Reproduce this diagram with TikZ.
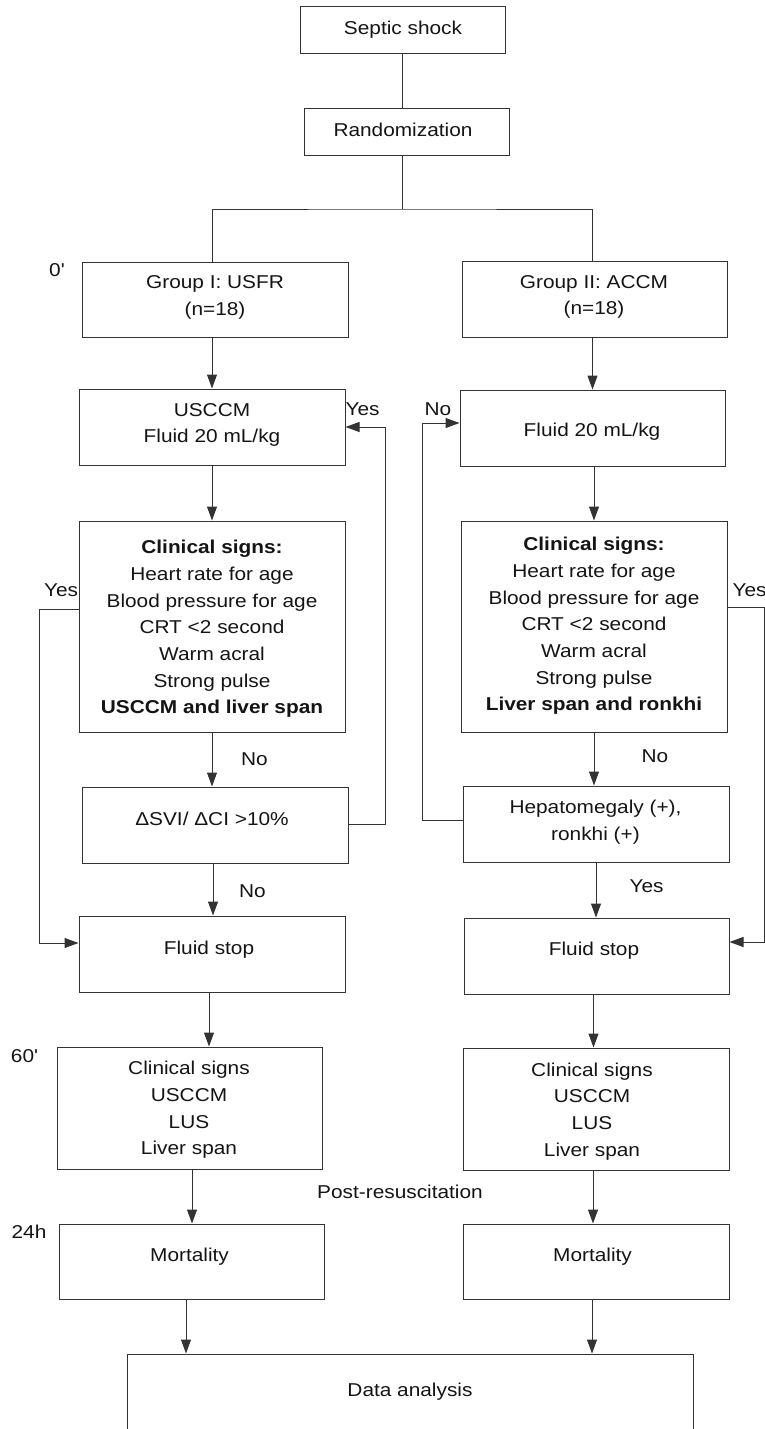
\documentclass[tikz,border=0pt]{standalone}
\usepackage{fontspec}
\setmainfont{Liberation Sans}[FakeStretch=1.12, Ligatures=TeXOff]
\usetikzlibrary{arrows.meta}
\definecolor{lc}{gray}{0.2}
\definecolor{tc}{gray}{0.08}
\begin{document}
\begin{tikzpicture}[x=1pt,y=-1pt,
  box/.style={draw=lc, line width=1pt, rectangle, inner sep=0pt},
  txt/.style={inner sep=0pt, align=center, text=tc, font=\fontsize{18.6}{26.67}\selectfont},
  lab/.style={txt, text height=13.3pt, text depth=0pt},
  ln/.style={draw=lc, line width=1pt},
  arr/.style={ln, -{Triangle[length=14pt,width=10pt]}}]
\useasboundingbox (0,0) rectangle (765,1429);
\clip (0,0) rectangle (765,1429);

% boxes
\node[box, minimum width=205pt, minimum height=47pt] (sep) at (402.5,30.5) {};
\node[box, minimum width=205pt, minimum height=47pt] (rnd) at (406.5,131.5) {};
\node[box, minimum width=266pt, minimum height=75pt] (g1) at (215,299.5) {};
\node[box, minimum width=265pt, minimum height=76pt] (g2) at (594.5,299) {};
\node[box, minimum width=266pt, minimum height=76pt] (us) at (212,427) {};
\node[box, minimum width=265pt, minimum height=76pt] (f2) at (592.5,428) {};
\node[box, minimum width=266pt, minimum height=211pt] (c1) at (212,626.5) {};
\node[box, minimum width=266pt, minimum height=211pt] (c2) at (594,626.5) {};
\node[box, minimum width=266pt, minimum height=76pt] (d1) at (215,825) {};
\node[box, minimum width=266pt, minimum height=76pt] (h2) at (596,824) {};
\node[box, minimum width=266pt, minimum height=76pt] (s1) at (212,954) {};
\node[box, minimum width=265pt, minimum height=76pt] (s2) at (596.5,956) {};
\node[box, minimum width=265pt, minimum height=122pt] (k1) at (190,1108) {};
\node[box, minimum width=266pt, minimum height=122pt] (k2) at (596,1109) {};
\node[box, minimum width=265pt, minimum height=75pt] (m1) at (192,1261.5) {};
\node[box, minimum width=266pt, minimum height=75pt] (m2) at (596,1261.5) {};
\node[box, minimum width=566pt, minimum height=120pt] (da) at (410,1414) {};

% texts in boxes
\node[lab] (tsep) at (403,28) {Septic shock};
\node[lab] (trnd) at (403,129.5) {Randomization};
\node[txt] (tg1) at (215,297.5) {Group I: USFR\\(n=18)};
\node[txt] (tg2) at (594,297) {Group II: ACCM\\(n=18)};
\node[txt] (tus) at (212,425) {USCCM\\Fluid 20 mL/kg};
\node[lab] (tf2) at (592,430) {Fluid 20 mL/kg};
\node[txt] (tc1) at (212,629) {\textbf{Clinical signs:}\\Heart rate for age\\Blood pressure for age\\CRT <2 second\\Warm acral\\Strong pulse\\\textbf{USCCM and liver span}};
\node[txt] (tc2) at (594,626) {\textbf{Clinical signs:}\\Heart rate for age\\Blood pressure for age\\CRT <2 second\\Warm acral\\Strong pulse\\\textbf{Liver span and ronkhi}};
\node[lab] (td1) at (212,819) {ΔSVI/ ΔCI >10\%};
\node[txt] (th2) at (595.5,822.5) {Hepatomegaly (+),\\ronkhi (+)};
\node[lab] (ts1) at (209,948) {Fluid stop};
\node[lab] (ts2) at (594,949) {Fluid stop};
\node[txt] (tk1) at (189,1110) {Clinical signs\\USCCM\\LUS\\Liver span};
\node[txt] (tk2) at (592,1111.5) {Clinical signs\\USCCM\\LUS\\Liver span};
\node[lab] (tm1) at (189.5,1255) {Mortality};
\node[lab] (tm2) at (592.5,1255) {Mortality};
\node[lab] (tda) at (410,1390) {Data analysis};

% side labels
\node[lab] (l0) at (57,270) {0'};
\node[lab] (l60) at (24.5,1056) {60'};
\node[lab] (l24) at (29,1232) {24h};
\node[lab] (lpr) at (400,1191.5) {Post-resuscitation};
\node[lab] (ly1) at (362.5,408.5) {Yes};
\node[lab] (ln1) at (438,409) {No};
\node[lab] (ly2) at (61,590) {Yes};
\node[lab] (ly3) at (749.5,590) {Yes};
\node[lab] (ln2) at (254.5,759) {No};
\node[lab] (ln3) at (655,756) {No};
\node[lab] (ln4) at (252.5,890.5) {No};
\node[lab] (ly4) at (646.5,885.5) {Yes};

% connectors
\coordinate (split) at (402.5,209);
\draw[ln] (sep.south) -- (sep.south |- rnd.north);
\draw[ln] (sep.south |- rnd.south) -- (split);
\draw[ln] (us.north |- g1.north) |- (split) -| (f2.north |- g2.north);
\draw[arr] (us.north |- g1.south) -- (us.north);
\draw[arr] (f2.north |- g2.south) -- (f2.north);
\draw[arr] (us.south) -- (c1.north);
\draw[arr] (c2.north |- f2.south) -- (c2.north);
\draw[arr] (c1.south) -- (c1.south |- d1.north);
\draw[arr] (c2.south) -- (c2.south |- h2.north);
\draw[arr] ([xshift=-2pt]d1.south) -- ([xshift=-2pt]d1.south |- s1.north);
\draw[arr] (h2.south) -- (h2.south |- s2.north);
\draw[arr] ([xshift=-3pt]s1.south) -- ([xshift=-3pt]s1.south |- k1.north);
\draw[arr] ([xshift=-3pt]s2.south) -- ([xshift=-3pt]s2.south |- k2.north);
\draw[arr] (m1.north |- k1.south) -- (m1.north);
\draw[arr] ([xshift=-3pt]k2.south) -- ([xshift=-3pt]k2.south |- m2.north);
\draw[arr] ([xshift=-6pt]m1.south) -- ([xshift=-6pt]m1.south |- da.north);
\draw[arr] ([xshift=-4pt]m2.south) -- ([xshift=-4pt]m2.south |- da.north);

% feedback loops
\draw[arr] ([yshift=17.5pt]c1.west) -- ++(-39pt,0) |- ([yshift=11pt]s1.west);
\draw[arr] ([yshift=19.5pt]c2.east) -- ++(37pt,0) |- ([yshift=14pt]s2.east);
\draw[arr] ([yshift=1pt]d1.east) -- ++(37pt,0) |- (us.east);
\draw[arr] ([yshift=4pt]h2.west) -- ++(-40.5pt,0) |- ([yshift=5pt]f2.west);
\end{tikzpicture}
\end{document}
